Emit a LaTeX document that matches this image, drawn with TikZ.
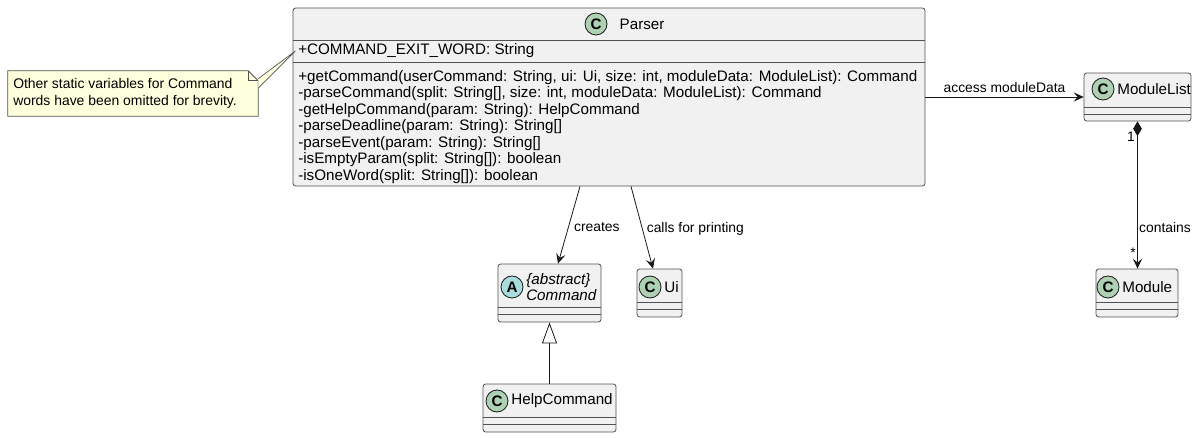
\documentclass[tikz,border=0pt]{standalone}
\usepackage{fontspec}
\setmainfont{Liberation Sans}
\usepackage{xcolor}
\usetikzlibrary{positioning, arrows.meta}

\definecolor{classfill}{HTML}{F1F1F1}
\definecolor{classline}{HTML}{181818}
\definecolor{spotc}{HTML}{ADD1B2}
\definecolor{spota}{HTML}{A9DCDF}
\definecolor{notefill}{HTML}{FEFFDD}

\begin{document}
\begin{tikzpicture}[x=0.75pt, y=-0.75pt,
    every node/.style={inner sep=0pt, font=\fontsize{11.4}{13}\selectfont},
    classbox/.style={draw=classline!75, fill=classfill, rounded corners=2pt, line width=0.6pt},
    sep/.style={draw=classline!75, line width=0.6pt},
    spot/.style={circle, draw=classline, fill=spotc, line width=0.6pt, minimum size=16.5pt, font=\fontsize{11.4}{12}\selectfont\bfseries},
    rel/.style={-{Stealth[length=7.5pt, width=7pt, inset=3pt]}, draw=classline, line width=0.6pt},
    lbl/.style={font=\fontsize{10.4}{12}\selectfont}]
		\useasboundingbox (0,0) rectangle (1199,438);

		% Classes
		\node[classbox, minimum width=474pt, minimum height=133.5pt] (parser) at (609,97) {};
		\node[classbox, minimum width=77.25pt, minimum height=43.5pt] (cmd) at (549.5,293) {};
		\node[classbox, minimum width=33.75pt, minimum height=36pt] (ui) at (659.5,293) {};
		\node[classbox, minimum width=99.75pt, minimum height=36pt] (help) at (549.5,408) {};
		\node[classbox, minimum width=80.25pt, minimum height=36pt] (mlist) at (1137.5,97) {};
		\node[classbox, minimum width=61.5pt, minimum height=36pt] (module) at (1137,293) {};

		% Compartment lines
		\draw[sep] (293,40) -- (925,40);
		\draw[sep] (293,62) -- (925,62);
		\draw[sep] (498,307) -- (601,307);
		\draw[sep] (498,314) -- (601,314);
		\draw[sep] (637,302) -- (682,302);
		\draw[sep] (637,309) -- (682,309);
		\draw[sep] (483,417) -- (616,417);
		\draw[sep] (483,424) -- (616,424);
		\draw[sep] (1084,107) -- (1191,107);
		\draw[sep] (1084,114) -- (1191,114);
		\draw[sep] (1096,302) -- (1178,302);
		\draw[sep] (1096,309) -- (1178,309);

		% Headers
		\node[spot] (parserspot) at (596,24) {C};
		\node[right=9pt of parserspot] (parsername) {Parser};
		\node[spot, fill=spota] (cmdspot) at (512,287) {A};
		\node[anchor=west, align=left, font=\fontsize{11.4}{12.5}\selectfont\itshape] (cmdname) at (526,287) {\{abstract\}\\Command};
		\node[spot] (uispot) at (650,287) {C};
		\node[right=2pt of uispot] (uiname) {Ui};
		\node[spot] (helpspot) at (497,401) {C};
		\node[right=2pt of helpspot] (helpname) {HelpCommand};
		\node[spot] (mlistspot) at (1103,89) {C};
		\node[right=2pt of mlistspot] (mlistname) {ModuleList};
		\node[spot] (modulespot) at (1108,287) {C};
		\node[right=2pt of modulespot] (modulename) {Module};

		% Members
		\node[anchor=west] (parserattr) at (298,51) {+COMMAND\_EXIT\_WORD: String};
		\node[anchor=north west, align=left, font=\fontsize{11.4}{12.375}\selectfont] (parserops) at (298,70) {%
			+getCommand(userCommand: String, ui: Ui, size: int, moduleData: ModuleList): Command\\
			-parseCommand(split: String[], size: int, moduleData: ModuleList): Command\\
			-getHelpCommand(param: String): HelpCommand\\
			-parseDeadline(param: String): String[]\\
			-parseEvent(param: String): String[]\\
			-isEmptyParam(split: String[]): boolean\\
			-isOneWord(split: String[]): boolean};

		% Note
		\node[minimum width=187.5pt, minimum height=33.75pt] (note) at (133,93.5) {};
		\draw[draw=classline!75, fill=notefill, line width=0.6pt]
			(note.north west) -- ([xshift=-7.5pt]note.north east) -- ([yshift=-7.5pt]note.north east)
			-- (note.south east) -- (note.south west) -- cycle;
		\draw[draw=classline!75, line width=0.6pt]
			([xshift=-7.5pt]note.north east) -- ([xshift=-7.5pt, yshift=-7.5pt]note.north east) -- ([yshift=-7.5pt]note.north east);
		\node[anchor=west, align=left, font=\fontsize{10.45}{12.5}\selectfont] (notetext) at (13,93.5) {Other static variables for Command\\words have been omitted for brevity.};
		\draw[draw=classline!75, fill=notefill, line width=0.5pt]
			([yshift=-6pt]note.north east) -- ([xshift=-2pt]parserattr.west) -- ([yshift=-13pt]note.north east);

		% Edges
		\draw[rel] ([xshift=-21.75pt]parser.south) -- node[lbl, right=4pt, pos=0.53] {creates} ([xshift=6.4pt]cmd.north);
		\draw[rel] ([xshift=16.5pt]parser.south) -- node[lbl, right=3pt, pos=0.52] {calls for printing} ([xshift=-4.9pt]ui.north);
		\draw[rel] (parser.east) -- node[lbl, above=3pt] {access moduleData} (mlist.west);
		\draw[{Diamond[length=11pt, width=6.5pt]}-{Stealth[length=7.5pt, width=7pt, inset=3pt]}, draw=classline, line width=0.6pt]
			(mlist.south) -- node[lbl, right=1pt, pos=0.72] {contains} (mlist.south |- module.north);
		\node[lbl] (one) at (1131,137) {1};
		\node[lbl] (many) at (1133,253) {*};
		\draw[-{Triangle[length=15.75pt, width=11.25pt, fill=white]}, draw=classline, line width=0.6pt] (help.north) -- (cmd.south);
	\end{tikzpicture}
\end{document}
